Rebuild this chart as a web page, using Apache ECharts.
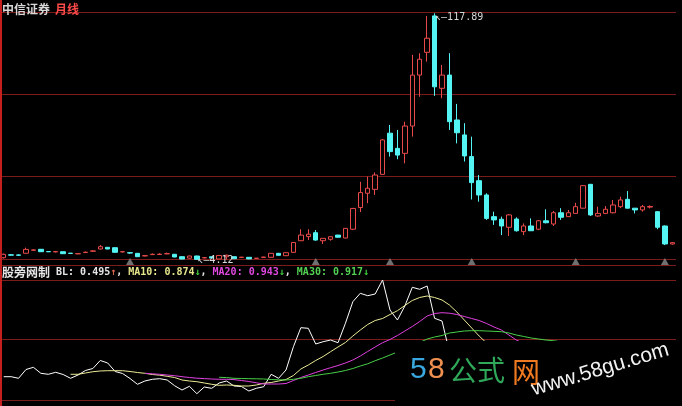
<!DOCTYPE html>
<html><head><meta charset="utf-8">
<script src="https://cdn.jsdelivr.net/npm/echarts@6/dist/echarts.min.js"></script>
<style>html,body{margin:0;padding:0;background:#000;}#c{width:682px;height:406px;}</style>
</head><body><div id="c"></div>
<script>
const months = [
'2003-01','2003-02','2003-03','2003-04','2003-05','2003-06','2003-07','2003-08','2003-09','2003-10','2003-11','2003-12',
'2004-01','2004-02','2004-03','2004-04','2004-05','2004-06','2004-07','2004-08','2004-09','2004-10','2004-11','2004-12',
'2005-01','2005-02','2005-03','2005-04','2005-05','2005-06','2005-07','2005-08','2005-09','2005-10','2005-11','2005-12',
'2006-01','2006-02','2006-03','2006-04','2006-05','2006-06','2006-07','2006-08','2006-09','2006-10','2006-11','2006-12',
'2007-01','2007-02','2007-03','2007-04','2007-05','2007-06','2007-07','2007-08','2007-09','2007-10','2007-11','2007-12',
'2008-01','2008-02','2008-03','2008-04','2008-05','2008-06','2008-07','2008-08','2008-09','2008-10','2008-11','2008-12',
'2009-01','2009-02','2009-03','2009-04','2009-05','2009-06','2009-07','2009-08','2009-09','2009-10','2009-11','2009-12',
'2010-01','2010-02','2010-03','2010-04','2010-05','2010-06','2010-07'];

const openP = [5.16,6.5,6.45,7.2,8.6,9.04,8.0,7.85,7.93,7.25,
6.95,7.55,8.15,9.18,9.96,9.78,7.85,7.5,7.19,6.0,
6.6,6.65,6.95,6.73,5.63,4.95,5.95,5.1,5.6,4.56,
5.6,5.63,5.3,5.35,4.85,5.3,5.35,7.19,6.09,7.65,
13.0,14.9,16.7,13.0,13.65,15.6,14.25,18.3,28.3,34.9,
36.7,43.6,62.6,55.6,53.3,65.9,89.4,99.9,116.7,83.3,
89.4,68.7,61.8,51.8,40.7,34.1,24.1,22.9,19.2,23.0,
17.2,19.8,18.3,22.2,20.7,25.9,24.1,25.6,28.0,39.0,
24.4,25.6,25.9,28.7,32.1,28.0,27.2,28.5,26.4,19.8,
11.5];
const closeP = [6.73,6.35,6.3,9.0,8.75,7.93,7.9,8.0,7.01,7.15,
7.05,7.7,8.3,10.24,9.18,7.65,7.95,7.3,5.63,6.1,
6.75,6.8,7.05,5.49,4.56,5.95,4.4,5.2,5.0,6.2,
6.3,4.7,5.4,4.6,4.95,5.45,7.19,6.27,7.47,12.17,
15.6,16.0,13.3,14.1,14.85,14.6,18.7,27.9,35.2,37.2,
43.3,59.5,54.1,52.5,65.9,89.4,96.7,106.4,84.0,89.4,
67.9,62.8,52.1,39.8,34.1,23.3,22.6,19.8,24.9,17.6,
19.8,17.6,22.2,21.3,25.9,23.8,25.9,28.7,38.4,24.9,
25.6,27.5,29.5,31.8,28.0,27.2,28.7,28.8,19.2,11.5,
12.1];
const lowP = [4.8,6.1,6.0,7.1,8.4,7.8,7.8,7.6,6.9,7.0,
6.8,7.4,8.0,9.0,9.1,7.5,7.6,7.0,5.5,5.8,
6.4,6.4,6.8,5.4,4.4,4.8,4.12,4.9,4.9,4.4,
4.3,4.6,5.2,4.5,4.8,5.2,5.2,6.2,6.0,7.5,
12.9,13.3,13.0,11.5,13.0,14.5,14.1,17.9,26.2,30.3,
34.1,43.3,51.8,50.6,48.7,61.0,79.4,95.6,79.8,78.7,
64.1,57.9,49.5,32.0,31.0,22.6,20.3,15.6,15.2,17.2,
15.6,17.5,17.9,21.0,19.8,22.6,24.0,25.5,27.9,24.4,
24.0,25.3,25.6,28.0,27.9,25.6,26.4,27.9,18.3,11.0,
11.2];
const highP = [7.1,6.8,6.7,9.8,9.0,9.2,8.1,8.3,8.0,7.3,
7.3,8.0,8.6,11.0,10.1,9.9,8.2,7.8,7.3,6.4,
7.1,7.2,7.5,6.9,5.8,6.1,6.1,5.4,5.7,6.4,
6.6,5.8,5.5,5.4,5.0,5.6,7.3,7.3,7.6,12.3,
18.3,18.3,17.9,14.2,14.9,15.7,18.8,28.0,40.2,42.6,
44.5,59.9,66.4,64.1,67.9,98.7,99.5,116.7,117.89,94.1,
99.5,76.1,67.2,61.0,43.3,34.9,26.4,24.1,25.3,23.8,
21.0,23.3,22.6,27.5,26.7,28.0,27.2,30.5,38.7,39.2,
28.7,29.0,31.8,33.3,35.9,28.1,29.5,29.3,26.6,20.0,
12.4];

const markerIdx = [17, 42, 52, 63, 77, 89];

const bl = [0.977,0.977,0.923,1.217,1.290,1.090,1.057,1.123,1.050,0.923,
1.033,1.183,1.250,1.517,1.433,1.150,1.083,0.917,0.723,0.833,
0.890,0.910,0.867,0.677,0.533,0.657,0.410,0.633,0.590,0.767,
0.833,0.667,0.650,0.500,0.590,0.643,1.057,0.923,1.200,1.977,
2.610,2.590,2.067,2.143,2.200,2.110,2.757,3.477,3.757,3.677,
3.733,4.200,3.200,2.867,3.333,3.957,3.890,4.000,2.923,2.833,
1.800,1.467,1.133,1.050,1.000,0.700,0.600,0.500,0.650,0.550,
1.000,0.930,1.000,1.070,1.120,1.000,1.050,1.100,1.250,0.850,
0.750,0.850,0.950,1.050,1.000,0.950,1.045,1.050,0.900,0.450,
0.495];
const ma10 = [null,null,null,null,null,null,null,null,null,
1.057,1.057,1.100,1.143,1.167,1.177,1.177,1.177,1.150,1.117,1.090,
1.050,1.027,0.990,0.950,0.867,0.833,0.810,0.767,0.723,0.690,
0.700,0.690,0.667,0.667,0.700,0.757,0.783,0.833,0.883,1.017,
1.233,1.367,1.517,1.650,1.810,1.967,2.117,2.333,2.533,2.717,
2.850,2.917,3.050,3.177,3.350,3.517,3.617,3.667,3.617,3.533,
3.367,3.133,2.867,2.600,2.333,2.100,1.750,1.400,1.170,0.945,
0.865,0.811,0.798,0.800,0.812,0.842,0.887,0.947,1.007,1.037,
1.012,1.004,0.999,0.997,0.985,0.980,0.980,0.975,0.940,0.900,
0.874];
const ma20 = [null,null,null,null,null,null,null,null,null,null,
null,null,null,null,null,null,null,null,null,
1.090,1.073,1.057,1.033,1.010,0.977,0.950,0.927,0.913,0.900,0.890,
0.890,0.880,0.850,0.817,0.773,0.733,0.733,0.733,0.750,0.850,
0.950,1.033,1.117,1.200,1.277,1.350,1.433,1.533,1.667,1.817,
1.967,2.110,2.217,2.350,2.500,2.650,2.817,3.000,3.083,3.110,
3.093,3.050,2.983,2.917,2.850,2.750,2.633,2.533,2.367,2.200,
2.083,1.919,1.809,1.719,1.609,1.461,1.319,1.174,1.090,0.991,
0.939,0.908,0.899,0.899,0.899,0.911,0.933,0.961,0.973,0.968,
0.943];
const ma30 = [null,null,null,null,null,null,null,null,null,null,
null,null,null,null,null,null,null,null,null,null,
null,null,null,null,null,null,null,null,null,
0.957,0.947,0.923,0.917,0.910,0.907,0.900,0.883,0.873,0.867,0.890,
0.923,0.977,1.017,1.057,1.090,1.133,1.183,1.250,1.333,1.407,
1.510,1.600,1.700,1.800,1.900,2.000,2.117,2.233,2.300,2.350,
2.433,2.467,2.500,2.510,2.510,2.500,2.490,2.477,2.433,2.367,
2.317,2.267,2.233,2.200,2.176,2.139,2.082,2.003,1.919,1.825,
1.726,1.614,1.539,1.479,1.401,1.301,1.206,1.107,1.040,0.961,
0.917];

const PRICE_MIN = 1.8, PRICE_MAX = 118.5;
const IND_MIN = 0.2, IND_MAX = 4.2;

const ohlc = openP.map((o, i) => [o, closeP[i], lowP[i], highP[i]]);
const markers = markerIdx.map(i => [i, PRICE_MIN]);

const last = a => a[a.length - 1];
const arrow = a => (a[a.length - 1] >= a[a.length - 2]) ? '{up|↑}' : '{dn|↓}';
const f3 = v => v.toFixed(3);
const indText = '{n|股旁网制}{w| BL: ' + f3(last(bl)) + '}' + arrow(bl) +
  '{w|, }{y|MA10: ' + f3(last(ma10)) + '}' + arrow(ma10) +
  '{w|, }{m|MA20: ' + f3(last(ma20)) + '}' + arrow(ma20) +
  '{w|, }{g|MA30: ' + f3(last(ma30)) + '}' + arrow(ma30);

const GRID_RED = '#7a1c1c';
const mono = 'DejaVu Sans Mono';
const cjk = 'Noto Sans CJK SC';

const chart = echarts.init(document.getElementById('c'), null, {renderer: 'canvas'});
const hiddenAxis = {axisLine:{show:false}, axisTick:{show:false}, axisLabel:{show:false}};

chart.setOption({
  backgroundColor: '#000',
  animation: false,
  title: [
    {left: 2, top: 0, padding: 0, text: '{a|中信证券} {b|月线}',
     textStyle: {rich: {a: {fontFamily: cjk, fontSize: 12, color: '#d8d8d8'}, b: {fontFamily: cjk, fontSize: 12, color: '#ff4a4a'}}}},
    {left: 2, top: 266, padding: 0, text: indText,
     textStyle: {rich: {
       n: {fontFamily: cjk, fontSize: 12, color: '#e6e6e6'},
       w: {fontFamily: mono, fontSize: 10, color: '#e6e6e6'},
       y: {fontFamily: mono, fontSize: 10, color: '#e6e68c'},
       m: {fontFamily: mono, fontSize: 10, color: '#e048e0'},
       g: {fontFamily: mono, fontSize: 10, color: '#52d052'},
       up: {fontFamily: mono, fontSize: 10, color: '#d8664c'},
       dn: {fontFamily: mono, fontSize: 10, color: '#40d040'}
     }}}
  ],
  grid: [
    {left: 0, right: 6, top: 12, height: 253, containLabel: false, outerBoundsMode: 'none'},
    {left: 0, right: 6, top: 280, height: 120, containLabel: false, outerBoundsMode: 'none'}
  ],
  xAxis: [
    Object.assign({type: 'category', gridIndex: 0, data: months, boundaryGap: true, splitLine: {show: false}}, hiddenAxis),
    Object.assign({type: 'category', gridIndex: 1, data: months, boundaryGap: true, splitLine: {show: false}}, hiddenAxis)
  ],
  yAxis: [
    Object.assign({type: 'value', gridIndex: 0, min: PRICE_MIN, max: PRICE_MAX, splitLine: {show: false}}, hiddenAxis),
    Object.assign({type: 'value', gridIndex: 0, inverse: true, min: 0, max: 3.073, interval: 1,
      splitLine: {show: true, lineStyle: {color: GRID_RED, width: 1}}}, hiddenAxis),
    Object.assign({type: 'value', gridIndex: 1, min: IND_MIN, max: IND_MAX, interval: 61 / 30,
      splitLine: {show: true, lineStyle: {color: GRID_RED, width: 1}}}, hiddenAxis)
  ],
  series: [
    {
      type: 'candlestick', xAxisIndex: 0, yAxisIndex: 0, data: ohlc, barWidth: 5,
      itemStyle: {color: '#000000', color0: '#54f4f4', borderColor: '#e84a4a', borderColor0: '#54f4f4', borderWidth: 1},
      markPoint: {
        symbol: 'circle', symbolSize: 1, itemStyle: {color: 'rgba(0,0,0,0)'},
        label: {show: true, position: 'right', distance: 0, color: '#d8d8d8', fontFamily: mono, fontSize: 10,
          formatter: p => '↖—' + p.value},
        data: [
          {type: 'max', valueDim: 'highest', label: {offset: [0, 4]}},
          {type: 'min', valueDim: 'lowest', label: {offset: [0, 0]}}
        ]
      }
    },
    {
      type: 'scatter', xAxisIndex: 0, yAxisIndex: 0, data: markers, symbol: 'triangle',
      symbolSize: [8, 7], symbolOffset: [0, -3.5], itemStyle: {color: '#8c8c8c'}, silent: true
    },
    {type: 'line', xAxisIndex: 1, yAxisIndex: 2, data: bl, symbol: 'none', lineStyle: {color: '#ffffff', width: 1}, itemStyle: {color: '#ffffff'}},
    {type: 'line', xAxisIndex: 1, yAxisIndex: 2, data: ma10, symbol: 'none', lineStyle: {color: '#ecec96', width: 1}, itemStyle: {color: '#ecec96'}},
    {type: 'line', xAxisIndex: 1, yAxisIndex: 2, data: ma20, symbol: 'none', lineStyle: {color: '#e040e0', width: 1}, itemStyle: {color: '#e040e0'}},
    {type: 'line', xAxisIndex: 1, yAxisIndex: 2, data: ma30, symbol: 'none', lineStyle: {color: '#48d048', width: 1}, itemStyle: {color: '#48d048'}}
  ],
  graphic: [
    {type: 'rect', z: 100, shape: {x: 0, y: 0, width: 2, height: 406}, style: {fill: '#c42020'}},
    {type: 'rect', z: 100, shape: {x: 395, y: 341, width: 287, height: 65}, style: {fill: '#000000'}},
    {type: 'text', z: 101, x: 410, y: 370, style: {text: '5', fill: '#3aa8e0', font: '30px "Liberation Sans"', verticalAlign: 'middle'}},
    {type: 'text', z: 101, x: 428, y: 370, style: {text: '8', fill: '#f09050', font: '30px "Liberation Sans"', verticalAlign: 'middle'}},
    {type: 'text', z: 101, x: 449, y: 370, style: {text: '公式', fill: '#2fa85a', font: '28px "Noto Sans CJK SC"', verticalAlign: 'middle'}},
    {type: 'text', z: 101, x: 512, y: 372, style: {text: '网', fill: '#f07a20', font: '28px "Noto Sans CJK SC"', verticalAlign: 'middle'}},
    {type: 'text', z: 101, x: 532, y: 390, rotation: 0.29, style: {text: 'www.58gu.com', fill: '#f2f2f2', font: '21px "Liberation Sans"', verticalAlign: 'middle'}}
  ]
});
</script>
</body></html>
